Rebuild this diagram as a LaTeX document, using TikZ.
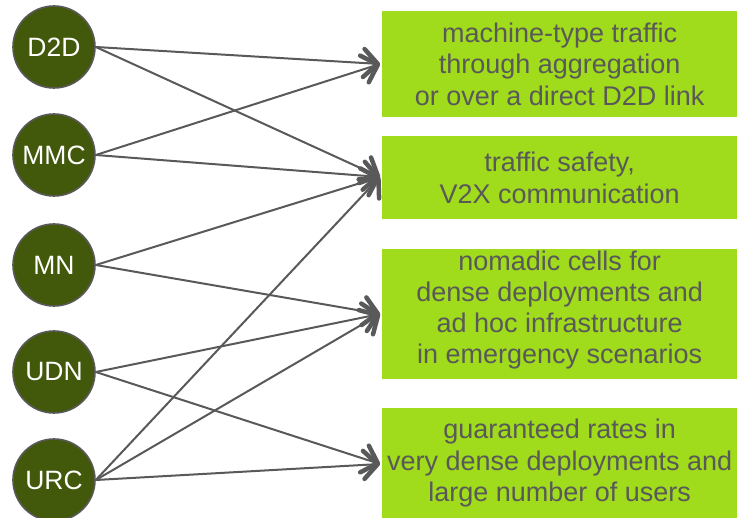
\documentclass[tikz,border=0pt]{standalone}
\usepackage{fontspec}
\setmainfont{Liberation Sans}
\usetikzlibrary{arrows.meta}
\definecolor{olive}{RGB}{66,89,11}
\definecolor{lime}{RGB}{160,219,28}
\definecolor{txtgray}{RGB}{89,89,89}
\tikzset{
  tech/.style={circle, draw=txtgray, line width=1.6pt, fill=olive, minimum size=82pt, inner sep=0pt,
    text=white, font=\fontsize{26.5}{30}\selectfont},
  usebox/.style={fill=lime, draw=none, anchor=north west, inner sep=0pt, align=center,
    text=txtgray, font=\fontsize{27}{31.5}\selectfont},
  link/.style={draw=txtgray, line width=2pt,
    -{Straight Barb[length=14pt, width=28pt, line width=4.5pt, round]}}
}
\begin{document}
\begin{tikzpicture}[x=1pt,y=-1pt]
\useasboundingbox (0,0) rectangle (737,518);
% left circles
\node[tech] (d2d) at (54,47) {D2D};
\node[tech] (mmc) at (54,155) {MMC};
\node[tech] (mn)  at (54,265) {MN};
\node[tech] (udn) at (54,372) {UDN};
\node[tech] (urc) at (54,480) {URC};
% right boxes
\node[usebox, minimum width=355pt, minimum height=106pt] (b1) at (382,11)
  {machine-type traffic\\through aggregation\\or over a direct D2D link};
\node[usebox, minimum width=355pt, minimum height=83pt] (b2) at (382,136)
  {traffic safety,\\V2X communication};
\node[usebox, minimum width=355pt, minimum height=130pt, text depth=14pt,
  font=\fontsize{27}{31}\selectfont] (b3) at (382,249)
  {nomadic cells for\\dense deployments and\\ad hoc infrastructure\\in emergency scenarios};
\node[usebox, minimum width=355pt, minimum height=110pt] (b4) at (382,408)
  {guaranteed rates in\\very dense deployments and\\large number of users};
% arrow targets
\coordinate (t1) at (380,64);
\coordinate (t2) at (380,177);
\coordinate (t3) at (380,314);
\coordinate (t4) at (380,464);
% connectors
\draw[link] (d2d.east) -- (t1);
\draw[link] (d2d.east) -- (t2);
\draw[link] (mmc.east) -- (t1);
\draw[link] (mmc.east) -- (t2);
\draw[link] (mn.east) -- (t2);
\draw[link] (mn.east) -- (t3);
\draw[link] (udn.east) -- (t3);
\draw[link] (udn.east) -- (t4);
\draw[link] (urc.east) -- (t2);
\draw[link] (urc.east) -- (t3);
\draw[link] (urc.east) -- (t4);
\end{tikzpicture}
\end{document}
